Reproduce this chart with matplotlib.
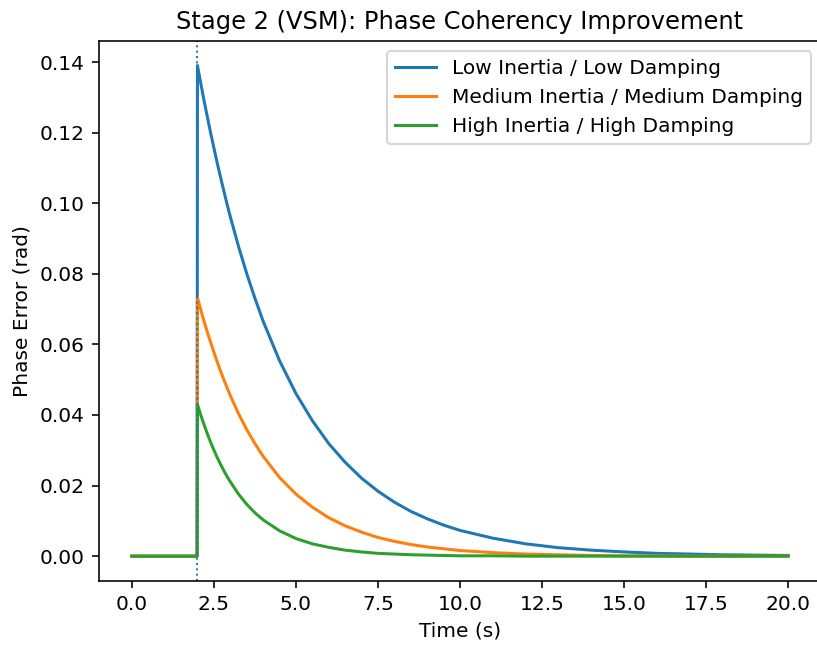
import matplotlib
matplotlib.use("Agg")
import matplotlib.pyplot as plt

# Time samples (s)
time_s = [0.0, 1.99,
          2.0, 2.1, 2.2, 2.3, 2.4, 2.5, 2.6, 2.7, 2.8, 2.9,
          3.0, 3.25, 3.5, 3.75, 4.0,
          4.5, 5.0, 5.5, 6.0, 6.5, 7.0, 7.5, 8.0, 8.5, 9.0, 9.5, 10.0,
          11.0, 12.0, 13.0, 14.0, 15.0, 16.0, 17.0, 18.0, 19.0, 20.0]

low_inertia = [0.0, 0.0,
               0.1390, 0.1340, 0.1291, 0.1245, 0.1200, 0.1157, 0.1115, 0.1075, 0.1036, 0.0998,
               0.0962, 0.0878, 0.0801, 0.0731, 0.0666,
               0.0554, 0.0461, 0.0384, 0.0319, 0.0266, 0.0221, 0.0184, 0.0153, 0.0127, 0.0106, 0.0088, 0.0073,
               0.0051, 0.0035, 0.0024, 0.0017, 0.0012, 0.0008, 0.0006, 0.0004, 0.0003, 0.0002]

medium_inertia = [0.0, 0.0,
                  0.0733, 0.0699, 0.0666, 0.0635, 0.0606, 0.0578, 0.0551, 0.0525, 0.0501, 0.0478,
                  0.0455, 0.0404, 0.0359, 0.0319, 0.0283,
                  0.0223, 0.0176, 0.0139, 0.0109, 0.0086, 0.0068, 0.0053, 0.0042, 0.0033, 0.0026, 0.0021, 0.0016,
                  0.0010, 0.0006, 0.0004, 0.0002, 0.0001, 0.0001, 0.0000, 0.0000, 0.0000, 0.0000]

high_inertia = [0.0, 0.0,
                0.0430, 0.0400, 0.0373, 0.0347, 0.0323, 0.0301, 0.0280, 0.0261, 0.0243, 0.0226,
                0.0211, 0.0176, 0.0147, 0.0123, 0.0103,
                0.0072, 0.0050, 0.0035, 0.0025, 0.0017, 0.0012, 0.0008, 0.0006, 0.0004, 0.0003, 0.0002, 0.0001,
                0.0001, 0.0000, 0.0000, 0.0000, 0.0000, 0.0000, 0.0000, 0.0000, 0.0000, 0.0000]

labels = ["Low Inertia / Low Damping",
          "Medium Inertia / Medium Damping",
          "High Inertia / High Damping"]
event_time = 2.0

dpi = 145
fig = plt.figure(figsize=(817 / dpi, 645 / dpi), dpi=dpi)
ax = fig.add_axes([99 / 817, 64.3 / 645, 722 / 817, 539.7 / 645])

ax.plot(time_s, low_inertia, label=labels[0])
ax.plot(time_s, medium_inertia, label=labels[1])
ax.plot(time_s, high_inertia, label=labels[2])
ax.axvline(event_time, linestyle=":", linewidth=1)

ax.set_title("Stage 2 (VSM): Phase Coherency Improvement")
ax.set_xlabel("Time (s)")
ax.set_ylabel("Phase Error (rad)")
ax.set_xticks([0, 2.5, 5, 7.5, 10, 12.5, 15, 17.5, 20])
ax.legend(loc="upper right")

fig.savefig("out.png", dpi=dpi)
